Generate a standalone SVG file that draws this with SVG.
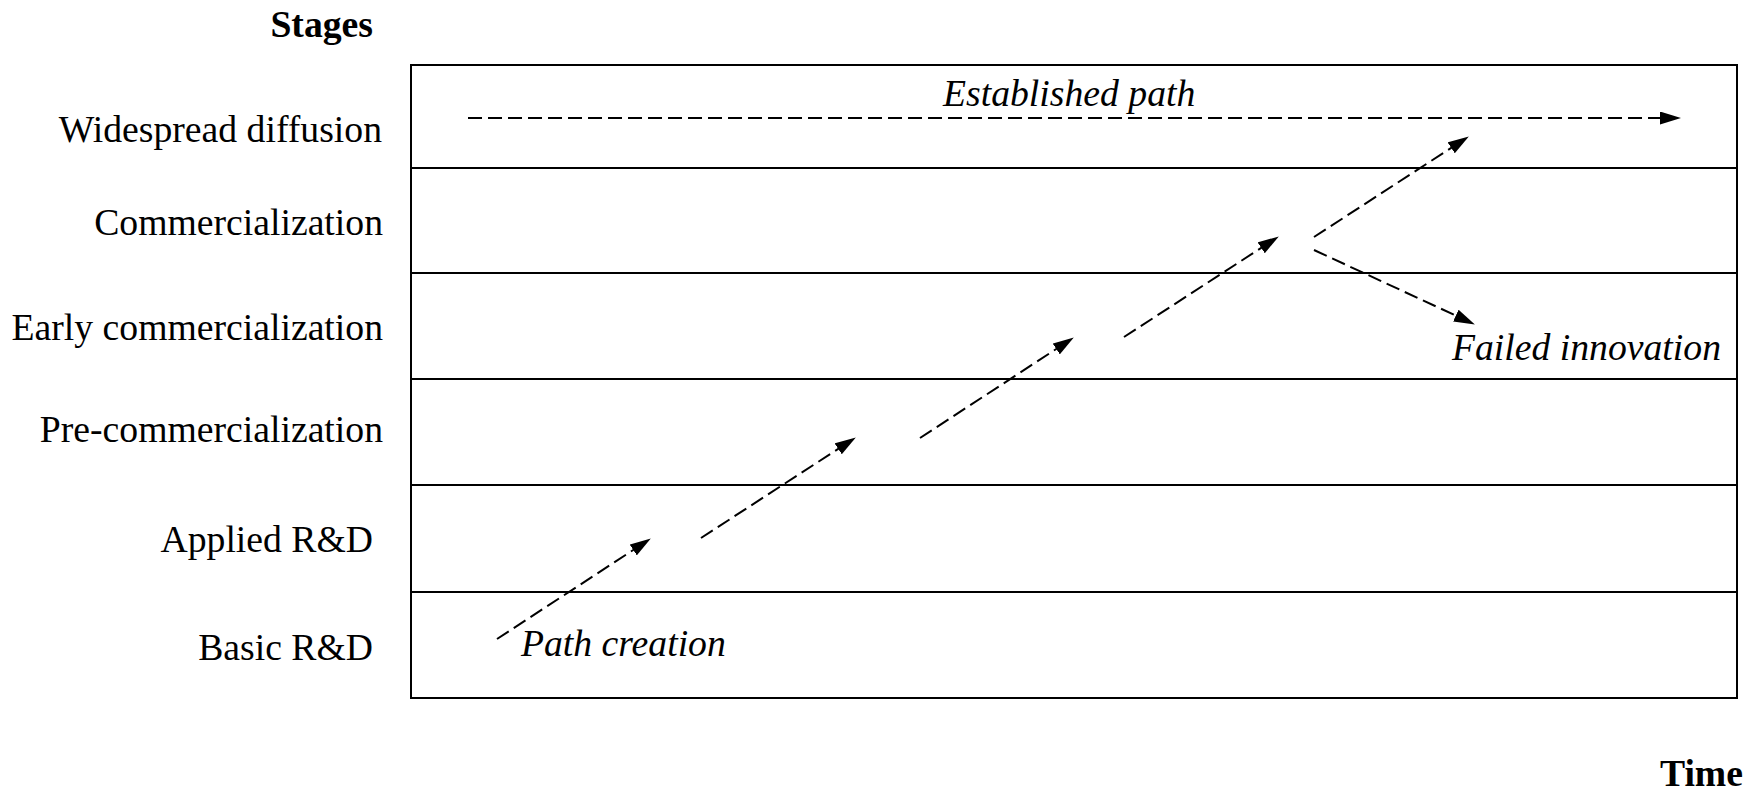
<svg xmlns="http://www.w3.org/2000/svg" width="1756" height="794" viewBox="0 0 1756 794">
<style>
.t{font-family:"Liberation Serif","Times New Roman",serif;font-size:37.7px;fill:#000}
.b{font-weight:bold}
.i{font-style:italic}
.r{text-anchor:end}
.grid{stroke:#000;stroke-width:2;fill:none}
.dash{stroke:#000;stroke-width:2;fill:none;stroke-dasharray:14 6;marker-end:url(#ah)}
</style>
<defs>
<marker id="ah" markerUnits="userSpaceOnUse" markerWidth="21" markerHeight="13" refX="10" refY="6.5" orient="auto">
<path d="M0,0 L21,6.5 L0,13 z" fill="#000"/>
</marker>
</defs>
<rect width="1756" height="794" fill="#fff"/>
<g id="axis-labels">
<text class="t b" x="373" y="37" text-anchor="end">Stages</text>
<text class="t b" x="1743" y="786" text-anchor="end">Time</text>
</g>
<g id="grid">
<rect class="grid" x="411" y="65" width="1326" height="633"/>
<line class="grid" x1="411" y1="168" x2="1737" y2="168"/>
<line class="grid" x1="411" y1="273" x2="1737" y2="273"/>
<line class="grid" x1="411" y1="379" x2="1737" y2="379"/>
<line class="grid" x1="411" y1="485" x2="1737" y2="485"/>
<line class="grid" x1="411" y1="592" x2="1737" y2="592"/>
</g>
<g id="stage-widespread"><text class="t r" x="382" y="142">Widespread diffusion</text></g>
<g id="stage-commercialization"><text class="t r" x="383" y="235">Commercialization</text></g>
<g id="stage-early"><text class="t r" x="383" y="340">Early commercialization</text></g>
<g id="stage-pre"><text class="t r" x="383" y="442">Pre-commercialization</text></g>
<g id="stage-applied"><text class="t r" x="373" y="552">Applied R&amp;D</text></g>
<g id="stage-basic"><text class="t r" x="373" y="660">Basic R&amp;D</text></g>
<g id="path-labels">
<text class="t i" x="943" y="106">Established path</text>
<text class="t i" x="1452" y="360">Failed innovation</text>
<text class="t i" x="521" y="656">Path creation</text>
</g>
<g id="connectors">
<line class="dash" x1="468" y1="118" x2="1670" y2="118"/>
<line class="dash" x1="497" y1="639" x2="641.6" y2="544.5"/>
<line class="dash" x1="701" y1="538" x2="846.6" y2="443.4"/>
<line class="dash" x1="920" y1="438" x2="1064.6" y2="343.5"/>
<line class="dash" x1="1124" y1="337" x2="1269.6" y2="242.4"/>
<line class="dash" x1="1314" y1="237" x2="1459.6" y2="142.4"/>
<line class="dash" x1="1314" y1="250" x2="1464.9" y2="319.8"/>
</g>
</svg>
